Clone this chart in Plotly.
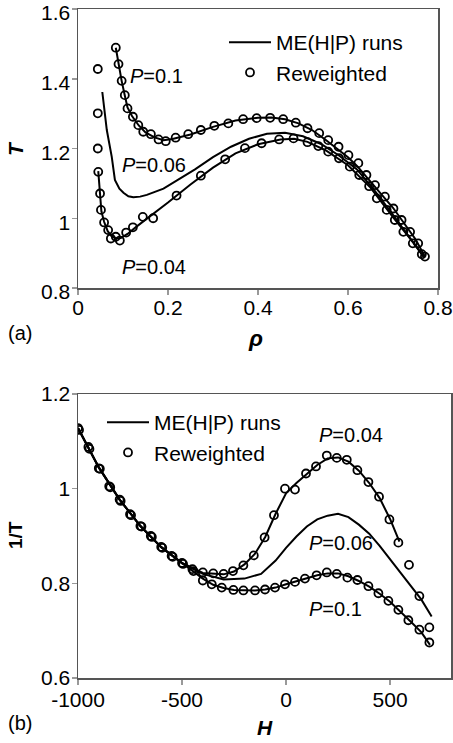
import plotly.graph_objects as go

# ---------------- Panel (a): T vs rho ----------------
a_line_p01_rho = [0.084, 0.090, 0.097, 0.104, 0.110, 0.120, 0.135, 0.150, 0.170, 0.190, 0.210, 0.250, 0.300,
                  0.350, 0.400, 0.430, 0.460, 0.490, 0.520, 0.550, 0.580, 0.600, 0.620, 0.650, 0.700, 0.750, 0.771]
a_line_p01_T = [1.489, 1.442, 1.394, 1.352, 1.318, 1.293, 1.266, 1.246, 1.232, 1.224, 1.227, 1.240, 1.262,
                1.280, 1.288, 1.289, 1.284, 1.272, 1.253, 1.225, 1.195, 1.175, 1.150, 1.105, 1.030, 0.940, 0.890]

a_line_p006_rho = [0.054, 0.064, 0.075, 0.082, 0.092, 0.101, 0.112, 0.123, 0.138, 0.153, 0.190, 0.220, 0.260,
                   0.300, 0.340, 0.380, 0.420, 0.460, 0.500, 0.540, 0.580, 0.620, 0.660, 0.700, 0.740, 0.770]
a_line_p006_T = [1.362, 1.253, 1.176, 1.110, 1.085, 1.073, 1.063, 1.060, 1.062, 1.067, 1.085, 1.108, 1.140,
                 1.175, 1.205, 1.228, 1.242, 1.245, 1.235, 1.213, 1.180, 1.140, 1.078, 1.010, 0.940, 0.886]

a_line_p004_rho = [0.045, 0.048, 0.052, 0.058, 0.066, 0.075, 0.085, 0.095, 0.110, 0.130, 0.160, 0.200, 0.250,
                   0.300, 0.350, 0.400, 0.450, 0.480, 0.510, 0.550, 0.600, 0.650, 0.700, 0.750, 0.770]
a_line_p004_T = [1.135, 1.075, 1.020, 0.990, 0.963, 0.948, 0.942, 0.943, 0.955, 0.976, 1.005, 1.045, 1.097,
                 1.145, 1.186, 1.212, 1.226, 1.228, 1.219, 1.195, 1.152, 1.088, 1.003, 0.922, 0.886]

a_rw_p01_rho = [0.084, 0.090, 0.097, 0.104, 0.110, 0.122, 0.134, 0.145, 0.162, 0.179, 0.195, 0.217, 0.245, 0.273,
                0.303, 0.334, 0.367, 0.397, 0.427, 0.456, 0.484, 0.510, 0.536, 0.556, 0.579, 0.601, 0.623, 0.641,
                0.660, 0.682, 0.701, 0.719, 0.738, 0.756, 0.771]
a_rw_p01_T = [1.489, 1.442, 1.394, 1.353, 1.315, 1.291, 1.267, 1.248, 1.241, 1.226, 1.221, 1.231, 1.241, 1.253,
              1.265, 1.272, 1.284, 1.287, 1.288, 1.284, 1.274, 1.258, 1.244, 1.224, 1.205, 1.181, 1.158, 1.124,
              1.095, 1.062, 1.028, 0.995, 0.961, 0.928, 0.890]

a_rw_p004_rho = [0.044, 0.044, 0.044, 0.045, 0.049, 0.051, 0.058, 0.067, 0.073, 0.084, 0.093, 0.107, 0.122, 0.144,
                 0.167, 0.219, 0.273, 0.327, 0.371, 0.408, 0.447, 0.479, 0.510, 0.534, 0.556, 0.580, 0.604, 0.625,
                 0.647, 0.664, 0.686, 0.704, 0.723, 0.744, 0.764]
a_rw_p004_T = [1.428, 1.301, 1.200, 1.133, 1.071, 1.024, 0.988, 0.966, 0.942, 0.947, 0.936, 0.959, 0.974, 1.004,
               1.000, 1.065, 1.122, 1.169, 1.201, 1.215, 1.226, 1.229, 1.218, 1.207, 1.191, 1.172, 1.148, 1.124,
               1.092, 1.057, 1.024, 0.995, 0.961, 0.928, 0.897]

# ---------------- Panel (b): 1/T vs H ----------------
b_line_p004_H = [-1000, -900, -800, -700, -600, -500, -400, -300, -250, -200, -150, -100, -50, 0, 50, 100, 150,
                 200, 250, 300, 350, 400, 450, 500, 545]
b_line_p004_v = [1.128, 1.045, 0.977, 0.921, 0.877, 0.843, 0.822, 0.819, 0.825, 0.840, 0.862, 0.898, 0.947, 0.990,
                 1.012, 1.031, 1.050, 1.064, 1.066, 1.057, 1.038, 1.012, 0.980, 0.936, 0.888]

b_line_p006_H = [-1000, -900, -800, -700, -600, -500, -400, -300, -200, -120, -50, 0, 50, 100, 150, 200, 250, 300,
                 350, 400, 450, 500, 550, 600, 650, 700]
b_line_p006_v = [1.128, 1.045, 0.977, 0.921, 0.876, 0.842, 0.820, 0.808, 0.810, 0.820, 0.848, 0.875, 0.899, 0.920,
                 0.935, 0.943, 0.947, 0.940, 0.924, 0.905, 0.879, 0.851, 0.822, 0.795, 0.766, 0.730]

b_line_p01_H = [-1000, -900, -800, -700, -600, -500, -450, -400, -350, -300, -250, -200, -150, -100, -50, 0, 50,
                100, 150, 200, 250, 300, 350, 400, 450, 500, 550, 600, 650, 692]
b_line_p01_v = [1.128, 1.045, 0.977, 0.921, 0.876, 0.842, 0.826, 0.810, 0.797, 0.790, 0.786, 0.785, 0.785, 0.787,
                0.791, 0.798, 0.804, 0.811, 0.817, 0.821, 0.821, 0.815, 0.805, 0.793, 0.778, 0.761, 0.741, 0.719,
                0.697, 0.670]

b_rw_p004_H = [-1000, -950, -900, -850, -800, -750, -700, -650, -600, -550, -500, -450, -400, -350, -300, -255,
               -205, -155, -103, -58, -5, 43, 96, 144, 196, 244, 292, 343, 396, 447, 497, 540, 591, 641, 689]
b_rw_p004_v = [1.128, 1.088, 1.043, 1.005, 0.977, 0.946, 0.921, 0.900, 0.877, 0.858, 0.843, 0.830, 0.823, 0.821,
               0.820, 0.826, 0.838, 0.859, 0.897, 0.944, 1.000, 0.998, 1.032, 1.047, 1.070, 1.065, 1.061, 1.039,
               1.014, 0.983, 0.935, 0.886, 0.839, 0.773, 0.707]

b_rw_p01_H = [-995, -945, -895, -845, -795, -745, -695, -645, -595, -545, -495, -445, -400, -357, -309, -253,
              -205, -149, -101, -53, -5, 43, 91, 147, 196, 244, 295, 343, 396, 444, 492, 540, 588, 641, 689]
b_rw_p01_v = [1.124, 1.084, 1.042, 1.003, 0.974, 0.944, 0.920, 0.898, 0.875, 0.856, 0.841, 0.826, 0.806, 0.798,
              0.791, 0.786, 0.785, 0.785, 0.787, 0.791, 0.798, 0.803, 0.810, 0.817, 0.823, 0.820, 0.812, 0.807,
              0.794, 0.779, 0.763, 0.744, 0.722, 0.702, 0.675]

a_xticks = [0, 0.2, 0.4, 0.6, 0.8]
a_xticklabels = ["0", "0.2", "0.4", "0.6", "0.8"]
a_yticks = [0.8, 1.0, 1.2, 1.4, 1.6]
a_yticklabels = ["0.8", "1", "1.2", "1.4", "1.6"]
b_xticks = [-1000, -500, 0, 500]
b_xticklabels = ["-1000", "-500", "0", "500"]
b_yticks = [0.6, 0.8, 1.0, 1.2]
b_yticklabels = ["0.6", "0.8", "1", "1.2"]

W, H = 453, 743
FONT = "Liberation Sans, Arial, sans-serif"

line_style = dict(color="black", width=2)
marker_style = dict(symbol="circle-open", size=8, color="black", line=dict(width=1.8, color="black"))

fig = go.Figure()

# panel a
fig.add_trace(go.Scatter(x=a_line_p01_rho, y=a_line_p01_T, mode="lines", line=line_style,
                         name="ME(H|P) runs", legend="legend", showlegend=True, xaxis="x", yaxis="y"))
fig.add_trace(go.Scatter(x=a_line_p006_rho, y=a_line_p006_T, mode="lines", line=line_style,
                         showlegend=False, xaxis="x", yaxis="y"))
fig.add_trace(go.Scatter(x=a_line_p004_rho, y=a_line_p004_T, mode="lines", line=line_style,
                         showlegend=False, xaxis="x", yaxis="y"))
fig.add_trace(go.Scatter(x=a_rw_p01_rho, y=a_rw_p01_T, mode="markers", marker=marker_style,
                         name="Reweighted", legend="legend", showlegend=True, xaxis="x", yaxis="y"))
fig.add_trace(go.Scatter(x=a_rw_p004_rho, y=a_rw_p004_T, mode="markers", marker=marker_style,
                         showlegend=False, xaxis="x", yaxis="y"))

# panel b
fig.add_trace(go.Scatter(x=b_line_p004_H, y=b_line_p004_v, mode="lines", line=line_style,
                         name="ME(H|P) runs", legend="legend2", showlegend=True, xaxis="x2", yaxis="y2"))
fig.add_trace(go.Scatter(x=b_line_p006_H, y=b_line_p006_v, mode="lines", line=line_style,
                         showlegend=False, xaxis="x2", yaxis="y2"))
fig.add_trace(go.Scatter(x=b_line_p01_H, y=b_line_p01_v, mode="lines", line=line_style,
                         showlegend=False, xaxis="x2", yaxis="y2"))
fig.add_trace(go.Scatter(x=b_rw_p004_H, y=b_rw_p004_v, mode="markers", marker=marker_style,
                         name="Reweighted", legend="legend2", showlegend=True, xaxis="x2", yaxis="y2"))
fig.add_trace(go.Scatter(x=b_rw_p01_H, y=b_rw_p01_v, mode="markers", marker=marker_style,
                         showlegend=False, xaxis="x2", yaxis="y2"))

def px(x):
    return x / W

def py(y):
    return 1 - y / H

axis_common = dict(showline=True, linecolor="#555", linewidth=1.5, mirror=True, ticks="outside",
                   ticklen=5, tickcolor="#999", tickwidth=1.5, showgrid=False, zeroline=False,
                   automargin=False, ticklabeloverflow="allow",
                   tickfont=dict(family=FONT, size=21, color="black"), fixedrange=True)

fig.update_layout(
    width=W, height=H, margin=dict(l=0, r=0, t=0, b=0, autoexpand=False),
    paper_bgcolor="white", plot_bgcolor="white",
    font=dict(family=FONT, size=20, color="black"),
    xaxis=dict(domain=[px(78), px(438)], range=[0, 0.8], tickvals=a_xticks, ticktext=a_xticklabels,
               anchor="y", ticklabelstandoff=-5, **axis_common),
    yaxis=dict(domain=[py(288), py(9)], range=[0.8, 1.6], tickvals=a_yticks, ticktext=a_yticklabels,
               anchor="x", ticklabelstandoff=-3, ticklabelshift=4, **axis_common),
    xaxis2=dict(domain=[px(78), px(451)], range=[-1000, 793], tickvals=b_xticks, ticktext=b_xticklabels,
                anchor="y2", ticklabelstandoff=-3, **axis_common),
    yaxis2=dict(domain=[py(678), py(394)], range=[0.6, 1.2], tickvals=b_yticks, ticktext=b_yticklabels,
                anchor="x2", ticklabelstandoff=-3, **axis_common),
    legend=dict(x=px(224), y=py(22), xanchor="left", yanchor="top", bgcolor="rgba(0,0,0,0)",
                font=dict(family=FONT, size=21, color="black"), itemwidth=42, tracegroupgap=0),
    legend2=dict(x=px(102), y=py(402), xanchor="left", yanchor="top", bgcolor="rgba(0,0,0,0)",
                 font=dict(family=FONT, size=21, color="black"), itemwidth=42, tracegroupgap=0),
)

ann = []
def txt(text, x, y, xref="paper", yref="paper", size=20, angle=0, xanchor="center"):
    ann.append(dict(text=text, x=x, y=y, xref=xref, yref=yref, showarrow=False, textangle=angle,
                    xanchor=xanchor, yanchor="middle", font=dict(family=FONT, size=size, color="black")))

# curve labels (data coordinates)
txt("<i>P</i>=0.1", 0.111, 1.408, "x", "y", 20, xanchor="left")
txt("<i>P</i>=0.06", 0.093, 1.153, "x", "y", 20, xanchor="left")
txt("<i>P</i>=0.04", 0.093, 0.860, "x", "y", 20, xanchor="left")
txt("<i>P</i>=0.04", 149, 1.114, "x2", "y2", 20, xanchor="left")
txt("<i>P</i>=0.06", 101, 0.886, "x2", "y2", 20, xanchor="left")
txt("<i>P</i>=0.1", 101, 0.745, "x2", "y2", 20, xanchor="left")

# axis titles and panel labels
txt("<b><i>T</i></b>", px(15), py(149), size=21, angle=-90)
txt("<b><i>ρ</i></b>", px(255), py(338), size=23)
txt("(a)", px(20), py(333), size=20)
txt("<b>1/T</b>", px(15), py(535), size=19, angle=-90)
txt("<b><i>H</i></b>", px(265), py(727), size=21)
txt("(b)", px(20), py(723), size=20)

fig.update_layout(annotations=ann)
fig.write_html("out.html", config={"displayModeBar": False, "staticPlot": True},
               post_script="document.body.style.margin='0';document.body.style.overflow='hidden';")
